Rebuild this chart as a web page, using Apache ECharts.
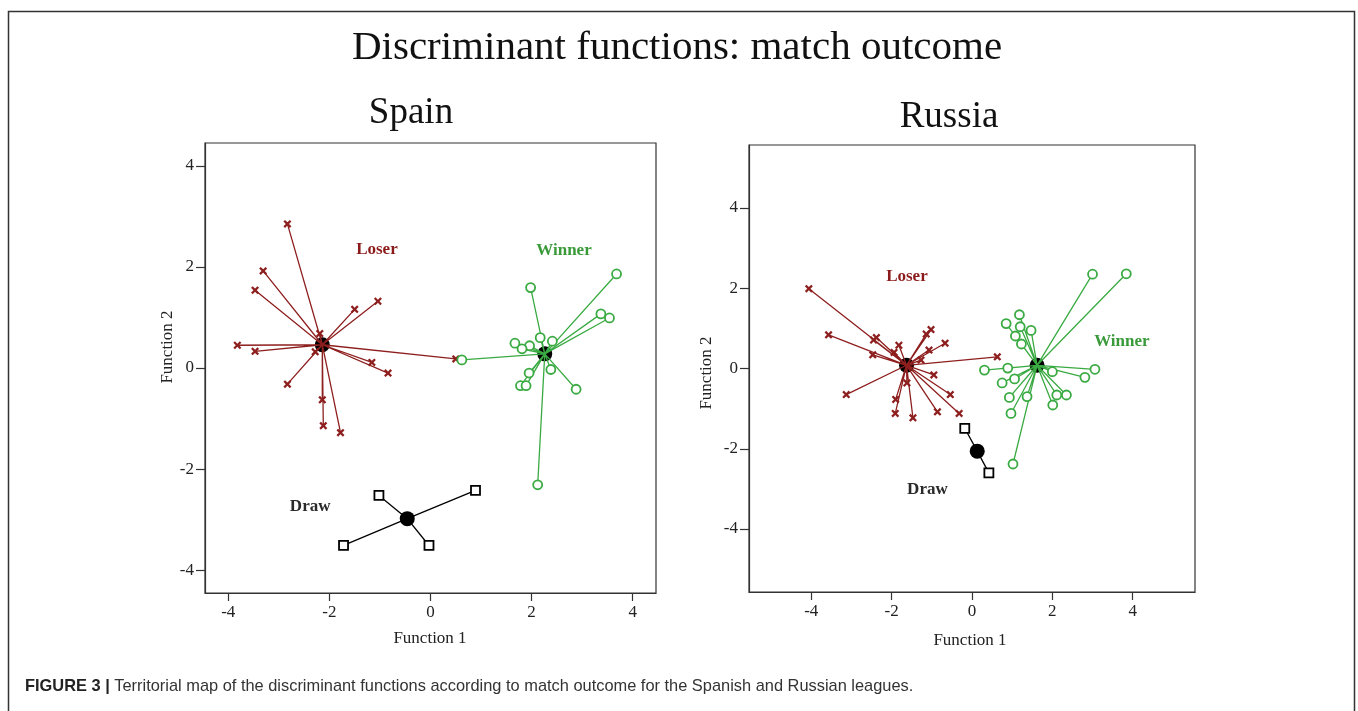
<!DOCTYPE html>
<html><head><meta charset="utf-8">
<script src="https://cdn.jsdelivr.net/npm/echarts@6/dist/echarts.min.js"></script>
<style>html,body{margin:0;padding:0;background:#fff}#c{width:1358px;height:711px}</style>
</head><body><div id="c"></div>
<script>
// ---- Data ----
const tickValues = [-4, -2, 0, 2, 4];

// Spain
const spainLoserCentroid = [-2.14, 0.46];
const spainLoser = [[-2.83,2.85],[-3.31,1.92],[-3.47,1.54],[-1.04,1.32],[-1.50,1.16],[-3.82,0.45],[-3.47,0.33],[-2.19,0.68],[-2.28,0.32],[-2.83,-0.32],[-1.16,0.11],[-0.84,-0.10],[-2.14,-0.63],[-2.12,-1.14],[-1.78,-1.28],[0.50,0.18]];
const spainWinnerCentroid = [2.26, 0.28];
const spainWinner = [[3.68,1.86],[1.98,1.59],[3.37,1.07],[3.54,0.99],[2.17,0.60],[2.41,0.53],[1.67,0.49],[1.96,0.44],[1.81,0.38],[0.62,0.16],[1.95,-0.10],[2.38,-0.03],[1.78,-0.35],[1.89,-0.35],[2.88,-0.42],[2.12,-2.31]];
const spainDrawCentroid = [-0.46, -2.98];
const spainDraw = [[-1.02,-2.52],[0.89,-2.42],[-1.72,-3.51],[-0.03,-3.51]];
const spainLabels = [["Loser",-1.06,2.34],["Winner",2.64,2.32],["Draw",-2.38,-2.75]];

// Russia
const russiaLoserCentroid = [-1.63, 0.08];
const russiaLoser = [[-4.06,1.99],[-3.57,0.84],[-2.38,0.77],[-2.45,0.71],[-2.47,0.34],[-1.82,0.58],[-1.94,0.40],[-1.02,0.97],[-1.14,0.86],[-0.67,0.63],[-1.07,0.46],[-1.27,0.21],[0.63,0.29],[-0.95,-0.16],[-3.13,-0.65],[-1.62,-0.36],[-1.90,-0.77],[-1.91,-1.12],[-1.47,-1.23],[-0.86,-1.08],[-0.54,-0.65],[-0.32,-1.12]];
const russiaWinnerCentroid = [1.62, 0.08];
const russiaWinner = [[3.00,2.35],[3.84,2.36],[1.18,1.34],[0.85,1.12],[1.20,1.04],[1.47,0.95],[1.08,0.81],[1.23,0.61],[0.31,-0.04],[0.89,0.01],[3.06,-0.02],[2.00,-0.08],[2.81,-0.22],[0.75,-0.36],[1.06,-0.26],[0.93,-0.72],[1.37,-0.70],[2.11,-0.66],[2.35,-0.66],[2.01,-0.91],[0.97,-1.12],[1.02,-2.38]];
const russiaDrawCentroid = [0.13, -2.06];
const russiaDraw = [[-0.18,-1.49],[0.42,-2.60]];
const russiaLabels = [["Loser",-1.62,2.29],["Winner",3.73,0.67],["Draw",-1.11,-3.02]];

// ---- Styles ----
const RED = '#8e1f1f', GREEN = '#3aaa42', BLACK = '#000';
const LABEL_COL = {Loser:'#8b1a1a', Winner:'#3a9a3a', Draw:'#2a2a2a'};
const SERIF = '"Liberation Serif","Times New Roman",serif';
const CROSS = 'path://M2,0L5,3L8,0L10,2L7,5L10,8L8,10L5,7L2,10L0,8L3,5L0,2Z';

function group(idx, centroid, pts, color, kind) {
  const out = [];
  out.push({type:'line', xAxisIndex:idx, yAxisIndex:idx, data: pts.flatMap(p => [centroid, p]),
    showSymbol:false, symbol:'none', lineStyle:{color:color, width:1.3, opacity:1}, z:3, animation:false, silent:true});
  let ms;
  if (kind === 'x') ms = {symbol:CROSS, symbolSize:8, itemStyle:{color:color, opacity:1}};
  else if (kind === 'o') ms = {symbol:'circle', symbolSize:9, itemStyle:{color:'#fff', borderColor:color, borderWidth:1.8, opacity:1}};
  else ms = {symbol:'rect', symbolSize:9, itemStyle:{color:'#fff', borderColor:BLACK, borderWidth:1.8, opacity:1}};
  out.push(Object.assign({type:'scatter', xAxisIndex:idx, yAxisIndex:idx, data:pts, z:4, animation:false, silent:true}, ms));
  out.push({type:'scatter', xAxisIndex:idx, yAxisIndex:idx, data:[centroid], symbol:'circle', symbolSize:15,
    itemStyle:{color:BLACK, opacity:1}, z:2, animation:false, silent:true});
  return out;
}
function labels(idx, arr) {
  return {type:'scatter', xAxisIndex:idx, yAxisIndex:idx, symbolSize:1, itemStyle:{color:'rgba(0,0,0,0)', opacity:1}, z:5, animation:false, silent:true,
    data: arr.map(a => ({value:[a[1], a[2]], name:a[0], label:{color:LABEL_COL[a[0]]}})),
    label:{show:true, position:'inside', formatter:p => p.name, fontFamily:SERIF, fontWeight:'bold', fontSize:17, opacity:1}};
}
function xAx(idx, r) {
  return {type:'value', gridIndex:idx, min:-r, max:r,
    axisLine:{show:true, onZero:false, lineStyle:{color:'#333', width:1.2}},
    axisTick:{show:true, customValues:tickValues, length:8, lineStyle:{color:'#333', width:1.2}},
    axisLabel:{customValues:tickValues, color:'#222', fontFamily:SERIF, fontSize:17, margin:11},
    splitLine:{show:false}};
}
function yAx(idx, r) {
  return {type:'value', gridIndex:idx, min:-r, max:r,
    axisLine:{show:true, onZero:false, lineStyle:{color:'#333', width:1.2}},
    axisTick:{show:true, customValues:tickValues, length:9, lineStyle:{color:'#333', width:1.2}},
    axisLabel:{customValues:tickValues, color:'#222', fontFamily:SERIF, fontSize:17, margin:11},
    splitLine:{show:false}};
}

const chart = echarts.init(document.getElementById('c'), null, {renderer:'canvas'});
chart.setOption({
  backgroundColor:'#fff',
  animation:false,
  title:[
    {text:'Discriminant functions: match outcome', left:672, top:23, textAlign:'center', textStyle:{fontFamily:SERIF, fontWeight:'normal', fontSize:41, color:'#111'}},
    {text:'Spain', left:406, top:90, textAlign:'center', textStyle:{fontFamily:SERIF, fontWeight:'normal', fontSize:37, color:'#111'}},
    {text:'Russia', left:944, top:94, textAlign:'center', textStyle:{fontFamily:SERIF, fontWeight:'normal', fontSize:37, color:'#111'}}
  ],
  grid:[
    {left:205, top:143, width:451, height:450, show:true, borderColor:'#333', borderWidth:1.2, backgroundColor:'transparent'},
    {left:749, top:145, width:446, height:447, show:true, borderColor:'#333', borderWidth:1.2, backgroundColor:'transparent'}
  ],
  xAxis:[xAx(0, 4.46), xAx(1, 5.55)],
  yAxis:[yAx(0, 4.45), yAx(1, 5.57)],
  series:[
    ...group(0, spainLoserCentroid, spainLoser, RED, 'x'),
    ...group(0, spainWinnerCentroid, spainWinner, GREEN, 'o'),
    ...group(0, spainDrawCentroid, spainDraw, BLACK, 's'),
    labels(0, spainLabels),
    ...group(1, russiaLoserCentroid, russiaLoser, RED, 'x'),
    ...group(1, russiaWinnerCentroid, russiaWinner, GREEN, 'o'),
    ...group(1, russiaDrawCentroid, russiaDraw, BLACK, 's'),
    labels(1, russiaLabels)
  ],
  graphic:[
    {type:'rect', shape:{x:8.5, y:11.5, width:1346, height:760}, style:{fill:'none', stroke:'#333', lineWidth:1.5}, z:0},
    {type:'text', x:430, y:639, style:{text:'Function 1', font:'17px '+SERIF, fill:'#222', textAlign:'center', textVerticalAlign:'middle'}},
    {type:'text', x:970, y:641, style:{text:'Function 1', font:'17px '+SERIF, fill:'#222', textAlign:'center', textVerticalAlign:'middle'}},
    {type:'text', x:168, y:347, rotation:Math.PI/2, style:{text:'Function 2', font:'17px '+SERIF, fill:'#222', textAlign:'center', textVerticalAlign:'middle'}},
    {type:'text', x:707, y:373, rotation:Math.PI/2, style:{text:'Function 2', font:'17px '+SERIF, fill:'#222', textAlign:'center', textVerticalAlign:'middle'}},
    {type:'text', x:25, y:686, style:{text:'{b|FIGURE 3 |} Territorial map of the discriminant functions according to match outcome for the Spanish and Russian leagues.',
      textVerticalAlign:'middle', rich:{b:{font:'bold 16.4px "Liberation Sans",Arial,sans-serif', fill:'#222'}}, font:'16.4px "Liberation Sans",Arial,sans-serif', fill:'#333'}}
  ]
});
</script></body></html>
